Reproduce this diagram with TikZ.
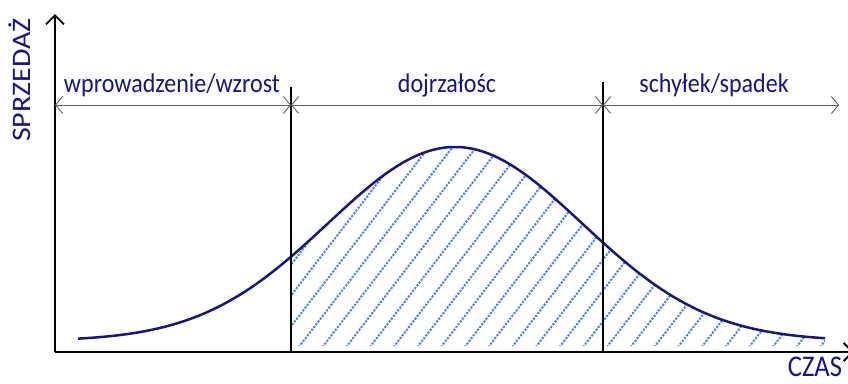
\documentclass[tikz,border=0pt]{standalone}
\usepackage{fontspec}
\setmainfont{Carlito}
\usetikzlibrary{arrows.meta}
\definecolor{colorNavy}{HTML}{14148C}
\definecolor{colorHatch}{HTML}{4A86D8}
\definecolor{colorGrey}{HTML}{606060}
\def\colorNavy{colorNavy}
\def\colorHatch{colorHatch}
\def\colorGrey{colorGrey}

\begin{document}
\begin{tikzpicture}[x=1pt,y=-1pt,
    axis/.style={line width=2.6pt},
    phase/.style={line width=2.2pt},
    span/.style={\colorGrey, line width=1pt,
      {Straight Barb[length=7pt,width=17pt,line width=0.9pt]}-{Straight Barb[length=7pt,width=17pt,line width=0.9pt]}},
    label/.style={\colorNavy, font=\fontsize{27}{30}\selectfont, inner sep=0pt},
    axislabel/.style={\colorNavy, font=\fontsize{30}{33}\selectfont, inner sep=0pt},
    hatch/.style={\colorHatch, line width=2pt, dash pattern=on 2.2pt off 1.3pt}]

  \useasboundingbox (0,0) rectangle (848,383);

  % Courbe des ventes (gaussienne)
  \def\sales{341-194*exp(-0.5*((\x-455)/127)*((\x-455)/127))}

  % Hachures sous la courbe
  \begin{scope}
    \clip (291,346) -- plot[domain=291:825, samples=80, smooth] (\x, {\sales}) -- (825,346) -- cycle;
    \foreach \i in {0,...,30}
      \draw[hatch] ({130.6+23.7*\i},350) -- ++(200,-260);
  \end{scope}

  \draw[\colorNavy, line width=2.5pt, domain=78:825, samples=120, smooth] plot (\x, {\sales});

  % Axes
  \coordinate (O) at (55,352);
  \coordinate (ytop) at (55,14);
  \coordinate (xend) at (854,352);
  \draw[axis, -{Straight Barb[length=9pt,width=18pt,line width=1.8pt]}] (O) -- (ytop);
  \draw[axis, -{Straight Barb[length=9pt,width=18pt,line width=1.8pt]}] (O) -- (xend);

  % Limites des phases
  \coordinate (p1top) at (291,87);
  \coordinate (p1bot) at (291,352);
  \coordinate (p2top) at (603,82);
  \coordinate (p2bot) at (603,352);
  \draw[phase] (p1top) -- (p1bot);
  \draw[phase] (p2top) -- (p2bot);

  % Flèches des phases
  \coordinate (s0) at (55,105);
  \coordinate (s1) at (291,105);
  \coordinate (s2) at (603,105);
  \coordinate (s3) at (839,105);
  \draw[span] (s0) -- (s1);
  \draw[span] (s1) -- (s2);
  \draw[span] (s2) -- (s3);

  \node[label, xscale=0.89] (intro) at (172,85) {wprowadzenie/wzrost};
  \node[label, xscale=0.89] (mature) at (447,85) {dojrzałośc};
  \node[label, xscale=0.89] (decline) at (714,85) {schyłek/spadek};

  % Noms des axes
  \node[axislabel, rotate=90, yscale=0.89] (ylab) at (20,80) {SPRZEDAŻ};
  \node[axislabel, xscale=0.89] (xlab) at (815,367) {CZAS};

\end{tikzpicture}
\end{document}
